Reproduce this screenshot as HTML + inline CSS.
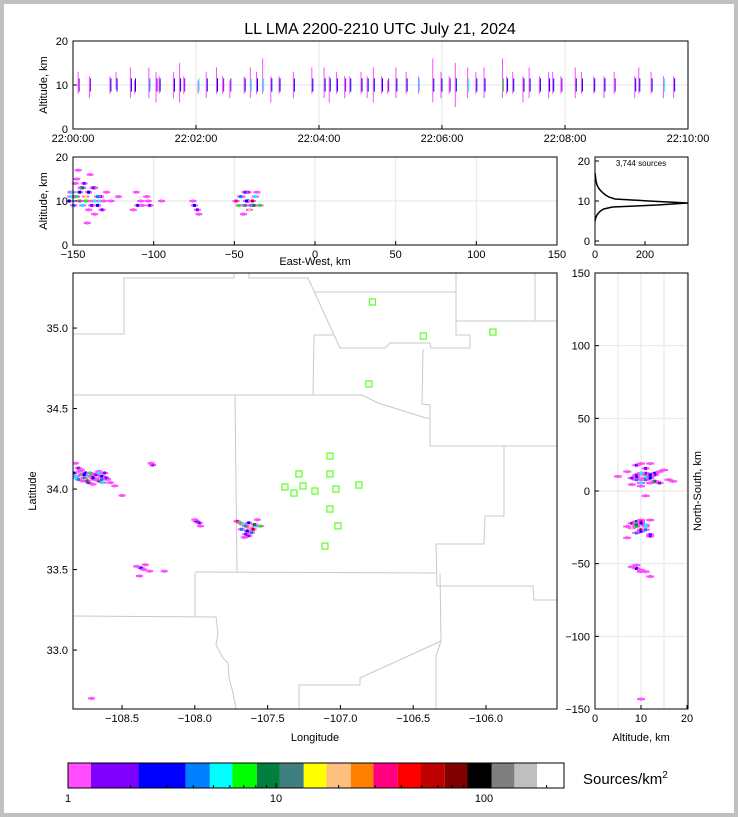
<!DOCTYPE html>
<html><head><meta charset="utf-8">
<style>
html,body{margin:0;padding:0;background:#fff;}
svg{display:block;font-family:"Liberation Sans","DejaVu Sans",sans-serif;}
</style></head>
<body>
<svg id="fig" width="738" height="817" viewBox="0 0 738 817" xmlns="http://www.w3.org/2000/svg">
<rect x="0" y="0" width="738" height="817" fill="#c0c0c0"/>
<rect x="4" y="4" width="730" height="809" fill="#fff"/>
<text x="380" y="34" font-size="16" text-anchor="middle">LL LMA 2200-2210 UTC July 21, 2024</text>
<g id="layers"></g>
</svg>
<script>
// ---------------- DATA ----------------
const cbColors = ['#ff4dff','#7f00ff','#0000ff','#007fff','#00ffff','#00ff00','#007f3f','#3f7f7f','#ffff00','#ffbf7f','#ff7f00','#ff007f','#ff0000','#bf0000','#7f0000','#000000','#7f7f7f','#bfbfbf','#ffffff'];
const cbBounds = [1,1.29,2.18,3.68,4.81,6.17,8.09,10.4,13.6,17.5,22.9,29.4,38.5,49.5,64.8,83.3,109,140,180,237];
const cbTickLabels = ['1','10','100'];
const cbTickValues = [1,10,100];
// sources in plan view: lon, lat, altitude km, density count
const srcLon = [-108.82,-108.80,-108.83,-108.81,-108.78,-108.76,-108.74,-108.72,-108.70,-108.68,-108.66,-108.64,-108.62,-108.60,-108.73,-108.70,-108.78,-108.66,-108.58,-108.69,-108.75,-108.63,-108.80,-108.55,-108.50,
 -108.29,-108.30,
 -107.99,-107.97,-108.00,-107.96,
 -107.71,-107.69,-107.67,-107.65,-107.63,-107.62,-107.60,-107.58,-107.61,-107.63,-107.57,-107.66,-107.55,-107.64,
 -108.37,-108.35,-108.40,-108.31,-108.38,-108.34,-108.21,-108.71,
 -108.77,-108.71,-108.67,-108.79,-108.61,-107.68,-107.59,-107.65,
 -108.82,-108.76,-108.72,-108.68,-108.64,-108.74,-108.70,-108.66];
const srcLat = [34.16,34.13,34.10,34.08,34.09,34.07,34.08,34.06,34.09,34.07,34.05,34.08,34.10,34.06,34.04,34.03,34.12,34.11,34.04,34.06,34.10,34.04,34.06,34.02,33.96,
 34.15,34.16,
 33.80,33.79,33.81,33.77,
 33.80,33.79,33.78,33.77,33.79,33.76,33.75,33.77,33.73,33.71,33.81,33.70,33.77,33.74,
 33.51,33.50,33.52,33.49,33.46,33.53,33.49,32.70,
 34.05,34.08,34.09,34.11,34.07,33.75,33.78,33.72,
 34.07,34.09,34.10,34.09,34.06,34.05,34.07,34.10];
const srcAlt = [12,11,10,12,11,10,9,11,12,10,13,9,11,10,14,8,15,7,12,16,13,10,9,10,11,
 9,10,
 9,8,10,7,
 10,9,11,9,10,8,10,11,9,12,12,7,9,10,
 9,10,8,11,12,9,10,10,
 17,5,13,14,8,11,9,12,
 11,12,10,9,11,13,12,10];
const srcCount = [1,2,3,5,8,12,6,15,4,20,9,3,2,1,2,1,1,1,1,1,3,5,4,1,1,
 2,1,
 3,2,1,1,
 30,8,5,12,3,20,60,6,4,2,1,1,7,3,
 3,1,1,1,1,1,1,1,
 1,1,2,1,2,4,9,2,
 6,3,7,2,4,10,3,5];
const staLon = [-106.78,-106.43,-105.952,-106.804,-107.072,-107.285,-107.072,-107.381,-107.257,-107.319,-107.175,-107.031,-106.873,-107.072,-107.017,-107.106];
const staLat = [35.162,34.951,34.975,34.653,34.205,34.094,34.094,34.013,34.019,33.975,33.988,34.000,34.025,33.876,33.771,33.646];
const flashT  = [5,16,36,42,56,60,74,81,84,98,104,108,122,130,140,146,153,167,173,179,185,193,201,215,233,245,250,257,265,270,281,287,293,301,307,315,325,337,351,359,367,373,385,393,401,419,423,429,439,445,455,464,468,476,490,496,508,518,528,548,552,564,576,586];
const flashLo = [8,7,8,9,7,8,7,6,8,7,6,8,8,7,8,8,7,8,7,8,8,6,8,7,8,7,6,8,7,8,8,7,6,8,8,7,8,8,6,7,8,5,7,8,7,7,8,8,6,7,8,7,8,8,7,8,8,7,8,7,8,8,7,7];
const flashHi = [13,12,12,13,14,11,14,13,12,13,15,12,11,13,14,12,11,12,14,13,16,12,12,13,14,14,12,13,12,12,13,12,14,12,11,14,13,12,16,13,12,15,14,13,14,16,12,13,12,14,12,13,13,12,14,13,12,12,13,12,14,13,12,12];
const flashPk = [2,2,3,3,3,3,4,2,3,3,3,2,5,3,3,2,2,3,6,3,5,3,3,3,3,3,3,3,2,3,3,3,3,3,2,3,3,5,3,3,2,3,5,3,3,8,3,3,3,3,3,3,3,2,3,3,3,3,2,3,3,3,6,3];
const histAlt = [5,5.5,6,6.5,7,7.5,8,8.5,9,9.5,10,10.5,11,11.5,12,12.5,13,13.5,14,14.5,15,15.5,16,16.5,17];
const histCnt = [0,2,4,8,14,22,35,70,250,370,215,80,55,42,32,24,17,12,8,6,4,3,2,1,0];
const timeTicks = ['22:00:00','22:02:00','22:04:00','22:06:00','22:08:00','22:10:00'];
const altTicks = [0,10,20];
const ewTicks = [-150,-100,-50,0,50,100,150];
const nsTicks = [-150,-100,-50,0,50,100,150];
const lonTicks = [-108.5,-108.0,-107.5,-107.0,-106.5,-106.0];
const latTicks = [33.0,33.5,34.0,34.5,35.0];
const histTicks = [0,200];
const sourceLabel = '3,744 sources';

// ---------------- HELPERS ----------------
const NS='http://www.w3.org/2000/svg';
const root=document.getElementById('layers');
function mk(tag,attrs,parent){const e=document.createElementNS(NS,tag);for(const k in attrs)e.setAttribute(k,attrs[k]);(parent||root).appendChild(e);return e;}
function lin(d0,d1,r0,r1){return v=>r0+(v-d0)/(d1-d0)*(r1-r0);}
function colorFor(n){for(let i=0;i<cbColors.length;i++){if(n<cbBounds[i+1])return cbColors[i];}return cbColors[cbColors.length-1];}
function txt(x,y,s,size,anchor,parent){const t=mk('text',{x:x,y:y,'font-size':size,'text-anchor':anchor||'middle'},parent);t.textContent=s;return t;}
const lon0=-107.18, lat0=33.99;
const ewKm=lon=>(lon-lon0)*92.3, nsKm=lat=>(lat-lat0)*111;

// ---------------- PANEL 1 ----------------
{const g=mk('g',{});
const X=lin(0,600,73,688),Y=lin(0,20,129,41);
timeTicks.forEach((s,i)=>{const x=X(i*120);const l=mk('line',{x1:x,x2:x,y1:41,y2:129,stroke:'#e6e6e6'},g);});
mk('line',{x1:73,x2:688,y1:Y(10),y2:Y(10),stroke:'#e6e6e6'},g);
flashT.forEach((t,i)=>{const x=X(t);
 const a=mk('line',{x1:x,x2:x,y1:Y(flashHi[i]),y2:Y(flashLo[i]),stroke:cbColors[0],'stroke-width':1},g);
 const b=mk('line',{x1:x+1,x2:x+1,y1:Y(11.5),y2:Y(8.5),stroke:colorFor(flashPk[i]),'stroke-width':1},g);
});
mk('rect',{x:73,y:41,width:615,height:88,fill:'none',stroke:'#000'},g);
timeTicks.forEach((s,i)=>{const x=X(i*120);mk('line',{x1:x,x2:x,y1:129,y2:125,stroke:'#000'},g);const t=txt(x,142,s,11,'middle',g);});
altTicks.forEach(v=>{const y=Y(v);mk('line',{x1:73,x2:77,y1:y,y2:y,stroke:'#000'},g);txt(68,y+4,String(v),11,'end',g);});
const yl=txt(0,0,'Altitude, km',11,'middle',g);yl.setAttribute('transform','translate(47,85) rotate(-90)');
}

// ---------------- PANEL 2 ----------------
{const g=mk('g',{});
const X=lin(-150,150,73,557),Y=lin(0,20,245,157);
ewTicks.forEach(v=>{mk('line',{x1:X(v),x2:X(v),y1:157,y2:245,stroke:'#e6e6e6'},g);});
mk('line',{x1:73,x2:557,y1:Y(10),y2:Y(10),stroke:'#e6e6e6'},g);
srcLon.forEach((lon,i)=>{const x=X(ewKm(lon)),y=Y(srcAlt[i]);
 const h=mk('rect',{x:x-3.5,y:y-1,width:7,height:2,fill:cbColors[0]},g);
 const r=mk('rect',{x:x-1.5,y:y-1.5,width:3,height:3,fill:colorFor(srcCount[i])},g);});
mk('rect',{x:73,y:157,width:484,height:88,fill:'none',stroke:'#000'},g);
ewTicks.forEach(v=>{const x=X(v);mk('line',{x1:x,x2:x,y1:245,y2:241,stroke:'#000'},g);txt(x,258,String(v).replace('-','\u2212'),11,'middle',g);});
altTicks.forEach(v=>{const y=Y(v);mk('line',{x1:73,x2:77,y1:y,y2:y,stroke:'#000'},g);txt(68,y+4,String(v),11,'end',g);});
const yl=txt(0,0,'Altitude, km',11,'middle',g);yl.setAttribute('transform','translate(47,201) rotate(-90)');
const xl=txt(315,265,'East-West, km',11,'middle',g);
}

// ---------------- PANEL 3 ----------------
{const g=mk('g',{});
const X=lin(0,372,595,688),Y=lin(0,20,241,161);
const pts=histAlt.map((a,i)=>X(histCnt[i])+','+Y(a)).join(' ');
const p=mk('polyline',{points:pts,fill:'none',stroke:'#000','stroke-width':1.5},g);
mk('rect',{x:595,y:157,width:93,height:88,fill:'none',stroke:'#000'},g);
histTicks.forEach(v=>{const x=X(v);mk('line',{x1:x,x2:x,y1:245,y2:241,stroke:'#000'},g);txt(x,258,String(v),11,'middle',g);});
altTicks.forEach(v=>{const y=Y(v);mk('line',{x1:595,x2:599,y1:y,y2:y,stroke:'#000'},g);txt(590,y+4,String(v),11,'end',g);});
const s=txt(641,166,sourceLabel,8,'middle',g);
}

// ---------------- PANEL 4: map ----------------
{const g=mk('g',{});
const X=lin(-108.837,-105.512,73,557),Y=lin(32.634,35.342,709,273);
const cp=mk('clipPath',{id:'mapclip'},g);mk('rect',{x:73,y:273,width:484,height:436},cp);
const cg=mk('g',{'clip-path':'url(#mapclip)'},g);
const borders=[
 'M0,61 L51,61 L51,5 L161,5 L161,0','M176,0 L176,5 L235,5 L267,75 L312,75 L317,70 L357,70 L358,75 L397,75 L397,62 L383,62 L383,48 L484,48',
 'M242,19 L383,19','M383,0 L383,62','M462,0 L462,48','M0,122 L289,122 L305,130 L353,145 L357,145',
 'M240,122 L241,62 L260,62','M350,76 L349,131 L357,132 L357,173 L484,173','M162,122 L164,299','M122,299 L363,300',
 'M122,300 L122,343','M0,343 L143,344 L145,360 L143,372 L150,385 L155,390 L156,405 L160,420 L163,436',
 'M431,173 L431,243 L412,243 L411,271 L363,271 L364,313 L460,313 L461,327 L484,327',
 'M367,300 L368,368 L363,383 L363,436','M368,368 L287,405 L287,412 L226,412 L226,436'];
borders.forEach(d=>{const b=mk('path',{d:d,fill:'none',stroke:'#c8c8c8','stroke-width':1,transform:'translate(73,273)'},cg);});
srcLon.forEach((lon,i)=>{const x=X(lon),y=Y(srcLat[i]);
 const h=mk('rect',{x:x-3.5,y:y-1,width:7,height:2,fill:cbColors[0]},cg);
 const r=mk('rect',{x:x-1.5,y:y-1.5,width:3,height:3,fill:colorFor(srcCount[i])},cg);});
staLon.forEach((lon,i)=>{const r=mk('rect',{x:X(lon)-3,y:Y(staLat[i])-3,width:6,height:6,fill:'none',stroke:'#66ff33','stroke-width':1.3},cg);});
mk('rect',{x:73,y:273,width:484,height:436,fill:'none',stroke:'#000'},g);
lonTicks.forEach(v=>{const x=X(v);mk('line',{x1:x,x2:x,y1:709,y2:705,stroke:'#000'},g);txt(x,722,v.toFixed(1).replace('-','\u2212'),11,'middle',g);});
latTicks.forEach(v=>{const y=Y(v);mk('line',{x1:73,x2:77,y1:y,y2:y,stroke:'#000'},g);txt(68,y+4,v.toFixed(1),11,'end',g);});
txt(315,741,'Longitude',11,'middle',g);
const yl=txt(0,0,'Latitude',11,'middle',g);yl.setAttribute('transform','translate(36,491) rotate(-90)');
}

// ---------------- PANEL 5 ----------------
{const g=mk('g',{});
const X=lin(0,20,595,687),Y=lin(-150,150,709,273);
[0,5,10,15,20].forEach(v=>{mk('line',{x1:X(v),x2:X(v),y1:273,y2:709,stroke:'#e6e6e6'},g);});
nsTicks.forEach(v=>{mk('line',{x1:595,x2:688,y1:Y(v),y2:Y(v),stroke:'#e6e6e6'},g);});
srcLat.forEach((lat,i)=>{const x=X(srcAlt[i]),y=Y(nsKm(lat));
 const h=mk('rect',{x:x-4,y:y-1,width:8,height:2,fill:cbColors[0]},g);
 const r=mk('rect',{x:x-1.5,y:y-1.5,width:3,height:3,fill:colorFor(srcCount[i])},g);});
mk('rect',{x:595,y:273,width:93,height:436,fill:'none',stroke:'#000'},g);
[0,10,20].forEach(v=>{const x=X(v);mk('line',{x1:x,x2:x,y1:709,y2:705,stroke:'#000'},g);txt(x,722,String(v),11,'middle',g);});
nsTicks.forEach(v=>{const y=Y(v);mk('line',{x1:595,x2:599,y1:y,y2:y,stroke:'#000'},g);txt(590,y+4,String(v).replace('-','\u2212'),11,'end',g);});
txt(641,741,'Altitude, km',11,'middle',g);
const yl=txt(0,0,'North-South, km',11,'middle',g);yl.setAttribute('transform','translate(701,491) rotate(-90)');
}

// ---------------- COLORBAR ----------------
{const g=mk('g',{});
const X=v=>68+208*Math.log10(v);
cbColors.forEach((c,i)=>{const x0=X(cbBounds[i]),x1=i==cbColors.length-1?564:X(cbBounds[i+1]);
 const r=mk('rect',{x:x0,y:763,width:x1-x0,height:25,fill:c},g);});
mk('rect',{x:68,y:763,width:496,height:25,fill:'none',stroke:'#000'},g);
[2,3,4,5,6,7,8,9,20,30,40,50,60,70,80,90,200].forEach(v=>{const x=X(v);mk('line',{x1:x,x2:x,y1:788,y2:785,stroke:'#000'},g);});
cbTickValues.forEach((v,i)=>{const x=X(v);mk('line',{x1:x,x2:x,y1:788,y2:783,stroke:'#000'},g);txt(x,802,cbTickLabels[i],11,'middle',g);});
const t=mk('text',{x:583,y:784,'font-size':15},g);t.innerHTML='Sources/km<tspan font-size="10" dy="-6">2</tspan>';
}
</script>
</body></html>
